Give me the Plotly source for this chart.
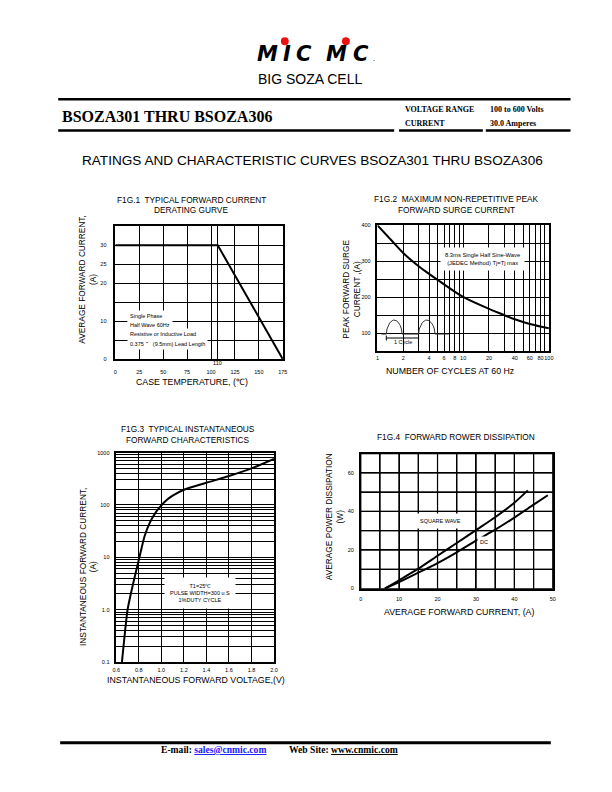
import numpy as np
import plotly.graph_objects as go

# ---------------- data ----------------
fig1_case_temp = [0, 107, 175]
fig1_avg_current = [30, 30, 0]
fig1_x_ticks = [0, 25, 50, 75, 100, 107, 125, 150, 175]
fig1_x_labels = ["0", "25", "50", "75", "100", "", "125", "150", "175"]
fig1_y_ticks = [0, 5, 10, 15, 20, 25, 30, 35]
fig1_y_labels = ["0", "", "10", "", "20", "25", "30", ""]

fig2_cycles = [1, 1.5, 2, 3, 4, 6, 10, 20, 30, 40, 60, 100]
fig2_surge = [400, 355, 323, 287, 265, 236, 201, 168, 151, 139, 126, 114]
fig2_x_ticks = [1, 2, 3, 4, 5, 6, 7, 8, 9, 10, 20, 30, 40, 50, 60, 70, 80, 90, 100]
fig2_x_labels = ["1", "2", "", "4", "", "6", "", "8", "", "10", "20", "", "40", "", "60", "", "80", "", "100"]
fig2_y_ticks = [50, 100, 150, 200, 250, 300, 350, 400]
fig2_y_labels = ["", "100", "", "200", "", "300", "", "400"]

# inset waveform sketch of fig.2 (cycles, amperes)
inset_base = 98
inset_peak = 137
inset_start, inset_end = 1.11, 6.81
inset_humps = [(1.27, 1.94), (3.02, 4.70)]
inset_bracket_y = 87

fig3_voltage = [0.65, 0.70, 0.75, 0.80, 0.85, 0.90, 0.95, 1.0, 1.05, 1.1, 1.2, 1.4, 1.6, 1.8, 2.0]
fig3_current = [0.1, 1.0, 3.2, 9, 25, 47, 72, 98, 125, 150, 195, 265, 357, 500, 760]
fig3_x_ticks = [0.6, 0.8, 1.0, 1.2, 1.4, 1.6, 1.8, 2.0]
fig3_x_labels = ["0.6", "0.8", "1.0", "1.2", "1.4", "1.6", "1.8", "2.0"]
fig3_decades = [0.1, 1, 10, 100]
fig3_decade_labels = ["0.1", "1.0", "10", "100", "1000"]

fig4_sq_current = [6.3, 10, 15, 20, 25, 30, 35, 40, 43.5]
fig4_sq_power = [0, 4.3, 10.3, 17, 23.6, 30.3, 37, 44.5, 50.9]
fig4_dc_current = [6.3, 10, 15, 20, 25, 30, 35, 40, 45, 48.7]
fig4_dc_power = [0, 3.4, 8.2, 13.2, 18.8, 24.8, 30.5, 36.8, 43.5, 48.4]
fig4_x_ticks = [0, 5, 10, 15, 20, 25, 30, 35, 40, 45, 50]
fig4_x_labels = ["0", "", "10", "", "20", "", "30", "", "40", "", "50"]
fig4_y_ticks = [0, 10, 20, 30, 40, 50, 60, 70]
fig4_y_labels = ["0", "", "20", "", "40", "", "60", ""]

# ---------------- helpers ----------------
W, H = 612, 792
SANS = "Liberation Sans"
SERIF = "Liberation Serif"


def px(x):
    return x / W


def py(y):
    return 1 - y / H


fig3_y_ticks = []
fig3_y_labels = []
for i, d in enumerate(fig3_decades):
    for m in range(1, 10):
        fig3_y_ticks.append(d * m)
        fig3_y_labels.append(fig3_decade_labels[i] if m == 1 else "")
fig3_y_ticks.append(1000)
fig3_y_labels.append(fig3_decade_labels[-1])

fig = go.Figure()

# fig.4 grid as a line trace on its own axes (drawn first, under the curves)
gx, gy = [], []
x_lo, x_hi = fig4_x_ticks[0], fig4_x_ticks[-1]
y_lo, y_hi = fig4_y_ticks[0], fig4_y_ticks[-1]
for v in fig4_x_ticks:
    gx += [v, v, None]
    gy += [y_lo, y_hi, None]
for v in fig4_y_ticks:
    gx += [x_lo, x_hi, None]
    gy += [v, v, None]
fig.add_trace(go.Scatter(x=gx, y=gy, mode="lines", line=dict(color="black", width=1.2),
                         xaxis="x4", yaxis="y4", hoverinfo="skip"))

fig.add_trace(go.Scatter(x=fig1_case_temp, y=fig1_avg_current, mode="lines",
                         line=dict(color="black", width=2), xaxis="x", yaxis="y"))
fig.add_trace(go.Scatter(x=fig2_cycles, y=fig2_surge, mode="lines",
                         line=dict(color="black", width=2, shape="spline", smoothing=1.0),
                         xaxis="x2", yaxis="y2"))
fig.add_trace(go.Scatter(x=fig3_voltage, y=fig3_current, mode="lines",
                         line=dict(color="black", width=2, shape="spline", smoothing=0.5),
                         xaxis="x3", yaxis="y3"))
fig.add_trace(go.Scatter(x=fig4_sq_current, y=fig4_sq_power, mode="lines",
                         line=dict(color="black", width=2, shape="spline", smoothing=0.6),
                         xaxis="x4", yaxis="y4"))
fig.add_trace(go.Scatter(x=fig4_dc_current, y=fig4_dc_power, mode="lines",
                         line=dict(color="black", width=2, shape="spline", smoothing=0.6),
                         xaxis="x4", yaxis="y4"))

# inset wave (half-sine pulses) drawn on fig.2 axes
wx, wy = [inset_start], [inset_base]
for a, b in inset_humps:
    t = np.linspace(0, 1, 25)
    wx += list(a * (b / a) ** t)
    wy += list(inset_base + (inset_peak - inset_base) * np.sqrt(np.sin(np.pi * t)))
wx.append(inset_end)
wy.append(inset_base)
fig.add_trace(go.Scatter(x=wx, y=wy, mode="lines", line=dict(color="#333", width=1),
                         xaxis="x2", yaxis="y2"))
bx0, bx1 = inset_humps[0][0], inset_humps[1][0]
by = inset_bracket_y
fig.add_trace(go.Scatter(x=[bx0, bx1, None, bx0, bx0, None, bx1, bx1],
                         y=[by, by, None, by - 7, by + 7, None, by - 7, by + 7],
                         mode="lines", line=dict(color="black", width=1),
                         xaxis="x2", yaxis="y2"))

AX = dict(showline=True, mirror=True, linecolor="black", linewidth=1.5,
          showgrid=True, gridcolor="black", gridwidth=1, zeroline=False,
          ticks="", tickfont=dict(family=SANS, size=5.5, color="black"),
          tickmode="array", tickangle=0, fixedrange=True, layer="above traces")

layout_axes = dict(
    xaxis=dict(AX, domain=[px(113), px(283)], range=[0, 175], anchor="y",
               tickvals=fig1_x_ticks, ticktext=fig1_x_labels, ticklabelstandoff=6),
    yaxis=dict(AX, domain=[py(359), py(225)], range=[0, 35], anchor="x",
               tickvals=fig1_y_ticks, ticktext=fig1_y_labels, ticklabelstandoff=6),
    xaxis2=dict(AX, domain=[px(379), px(553)], type="log", range=[0, 2], anchor="y2",
                tickvals=fig2_x_ticks, ticktext=fig2_x_labels, ticklabelstandoff=0),
    yaxis2=dict(AX, domain=[py(351), py(224)], range=[50, 400], anchor="x2",
                tickvals=fig2_y_ticks, ticktext=fig2_y_labels, ticklabelstandoff=4),
    xaxis3=dict(AX, domain=[px(114), px(274)], range=[0.6, 2.0], anchor="y3",
                tickvals=fig3_x_ticks, ticktext=fig3_x_labels, ticklabelstandoff=2),
    yaxis3=dict(AX, domain=[py(664), py(453)], type="log", range=[-1, 3], anchor="x3",
                tickvals=fig3_y_ticks, ticktext=fig3_y_labels, ticklabelstandoff=4),
    xaxis4=dict(AX, domain=[px(362), px(557)], range=[0, 50], anchor="y4",
                tickvals=fig4_x_ticks, ticktext=fig4_x_labels, ticklabelstandoff=4),
    yaxis4=dict(AX, domain=[py(590), py(454)], range=[0, 70], anchor="x4",
                tickvals=fig4_y_ticks, ticktext=fig4_y_labels, ticklabelstandoff=4),
)

ann = []


def text(t, x, y, size, family=SANS, xanchor="center", yanchor="middle", angle=0,
         bg=None, color="black", weight=None, style=None, pad=0):
    f = dict(family=family, size=size, color=color)
    if weight:
        f["weight"] = weight
    if style:
        f["style"] = style
    d = dict(text=t, x=px(x), y=py(y), xref="paper", yref="paper", showarrow=False,
             xanchor=xanchor, yanchor=yanchor, textangle=angle, font=f, borderpad=pad)
    if bg:
        d["bgcolor"] = bg
    ann.append(d)


# logo
for ch, x in [("M", 267), ("I", 287), ("C", 304), ("M", 337), ("C", 362)]:
    text(ch, x, 51.5, 21, family="DejaVu Sans", weight="bold", style="italic")
text(".", 376, 56, 7, family="DejaVu Sans")
text("BIG SOZA CELL", 311, 77, 14)

# header
text("BSOZA301 THRU BSOZA306", 58, 114, 16, family=SERIF, xanchor="left", weight="bold")
text("VOLTAGE RANGE", 406, 107, 8, family=SERIF, xanchor="left", weight="bold")
text("CURRENT", 406, 121, 8, family=SERIF, xanchor="left", weight="bold")
text("100 to 600 Volts", 492, 107, 8, family=SERIF, xanchor="left", weight="bold")
text("30.0 Amperes", 492, 121, 8, family=SERIF, xanchor="left", weight="bold")
text("RATINGS AND CHARACTERISTIC CURVES BSOZA301 THRU BSOZA306", 313, 159, 13.6)

# figure titles
text("F1G.1  TYPICAL FORWARD CURRENT", 190, 198, 8.3)
text("DERATING GURVE", 190, 209, 8.3)
text("F1G.2  MAXIMUM NON-REPETITIVE PEAK", 459, 197, 8.3)
text("FORWARD SURGE CURRENT", 459, 209, 8.3)
text("F1G.3  TYPICAL INSTANTANEOUS", 187, 429, 8.3)
text("FORWARD CHARACTERISTICS", 187, 440, 8.3)
text("F1G.4  FORWARD ROWER DISSIPATION", 459, 437, 8.3)

# axis titles
text("CASE TEMPERATURE, (\u2103)", 191, 382, 8.8)
text("NUMBER OF CYCLES AT 60 Hz", 453, 371, 8.8)
text("INSTANTANEOUS FORWARD VOLTAGE,(V)", 195, 682, 8.8)
text("AVERAGE FORWARD CURRENT, (A)", 462, 614, 8.8)
text("AVERAGE FORWARD CURRENT,<br>(A)", 85, 279, 8.3, angle=-90)
text("PEAK FORWARD SURGE<br>CURRENT ,(A)", 353, 288, 8.3, angle=-90)
text("INSTANTANEOUS FORWARD CURRENT,<br>(A)", 85.5, 568, 8.3, angle=-90)
text("AVERAGE POWER DISSIPATION<br>(W)", 335, 518, 8.3, angle=-90)

# fig1 notes
text("110", 217, 362.5, 5.5)
for t, y in [("Single Phase", 315), ("Half Wave 60Hz", 324),
             ("Resistive or Inductive Load", 333.3), ("0.375\uff02  (9.5mm) Lead Length", 343.3)]:
    text(t, 125, y, 5.5, xanchor="left", bg="white", pad=2)

# fig2 notes
text("8.3ms Single Half Sine-Wave<br>(JEDEC Method) Tj=Tj max", 486, 258, 5.8, bg="white", pad=4)
text("1 Cycle", 405, 342, 5.5)

# fig3 notes
text("T1=25\u2103<br>PULSE WIDTH=300 u S<br>1%DUTY CYCLE", 199, 594, 5.5, bg="white", pad=5)

# fig4 notes
text("SQUARE WAVE", 443, 522, 5.5, bg="white", pad=4)
text("DC", 487, 543, 5.5, bg="white", pad=2)

# footer
text("<b>E-mail: <span style='color:#1a1aff'><u>sales@cnmic.com</u></span></b>", 158, 752.5, 9.6,
     family=SERIF, xanchor="left")
text("<b>Web Site: <u>www.cnmic.com</u></b>", 288, 752.5, 9.6, family=SERIF, xanchor="left")

shapes = []

# fig.4 grid also as shapes on the x4/y4 scales, in the upper shape layer
for v in fig4_x_ticks:
    shapes.append(dict(type="line", xref="x4", yref="y4 domain", x0=v, x1=v, y0=0, y1=1,
                       layer="above", line=dict(color="black", width=1)))
for v in fig4_y_ticks:
    shapes.append(dict(type="line", xref="x4 domain", yref="y4", x0=0, x1=1, y0=v, y1=v,
                       layer="above", line=dict(color="black", width=1)))


def hline(x0, x1, y, w):
    shapes.append(dict(type="line", xref="paper", yref="paper", x0=px(x0), x1=px(x1),
                       y0=py(y), y1=py(y), line=dict(color="black", width=w)))


hline(55, 575, 97, 2.5)
hline(55, 396, 128.5, 2.5)
hline(401, 486, 128.5, 2.5)
hline(489, 575, 128.5, 2.5)
hline(57, 555, 745.5, 3)

for cx in [285, 347]:
    r = 4
    shapes.append(dict(type="circle", xref="paper", yref="paper", x0=px(cx - r), x1=px(cx + r),
                       y0=py(38.5 + r), y1=py(38.5 - r), fillcolor="#ee1111", line=dict(width=0)))

fig.update_layout(
    width=W, height=H, autosize=False, margin=dict(l=0, r=0, t=0, b=0),
    paper_bgcolor="white", plot_bgcolor="rgba(0,0,0,0)", showlegend=False,
    annotations=ann, shapes=shapes, **layout_axes,
)

fig.write_html("out.html", config={"displayModeBar": False})
